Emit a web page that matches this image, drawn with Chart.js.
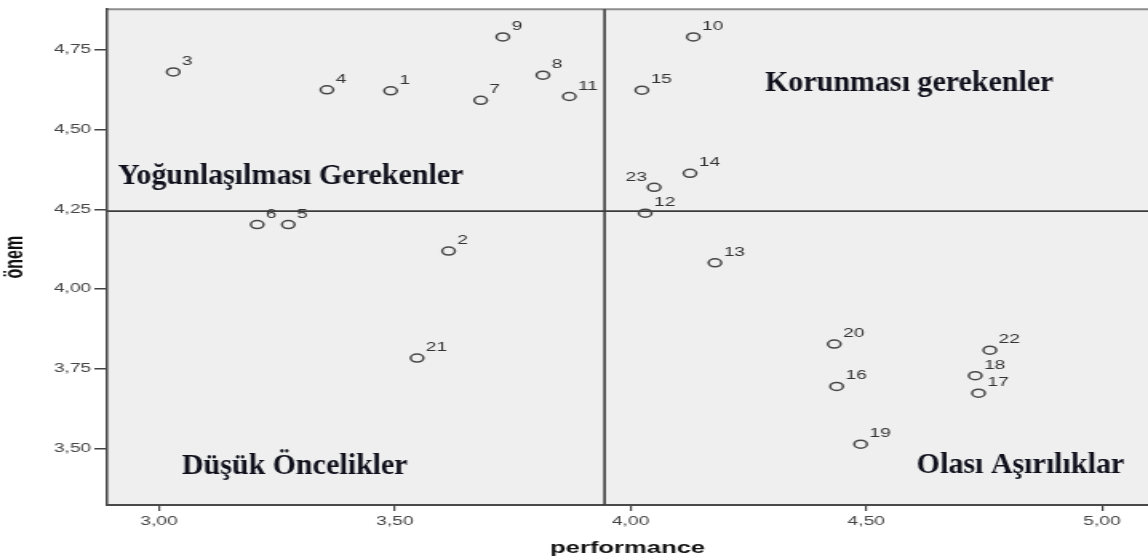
<!DOCTYPE html>
<html lang="tr">
<head>
<meta charset="utf-8">
<title>Önem - Performans Analizi</title>
<script src="https://cdn.jsdelivr.net/npm/chart.js@4/dist/chart.umd.min.js"></script>
<style>
  html, body { margin: 0; padding: 0; background: #fff; }
  #chart { display: block; }
</style>
</head>
<body>
<!-- the original picture is stretched sideways, so the canvas is too (inline style keeps Chart.js from resetting it) -->
<canvas id="chart" width="718" height="560" style="width:1148px;height:560px"></canvas>
<script>
// ---------- Data ----------

const ITEM_IDS = [1, 2, 3, 4, 5, 6, 7, 8, 9, 10, 11, 12, 13, 14, 15, 16, 17, 18, 19, 20, 21, 22, 23];
const PERFORMANCE = [3.491, 3.614, 3.030, 3.356, 3.274, 3.208, 3.682, 3.814, 3.729, 4.133, 3.870, 4.031,
                     4.179, 4.126, 4.024, 4.437, 4.738, 4.731, 4.488, 4.432, 3.547, 4.762, 4.050];
const ONEM = [4.622, 4.119, 4.681, 4.625, 4.202, 4.202, 4.592, 4.671, 4.791, 4.791, 4.604, 4.238,
              4.082, 4.363, 4.624, 3.694, 3.673, 3.728, 3.513, 3.827, 3.783, 3.808, 4.319];

// reference lines (means)
const MEAN_PERFORMANCE = 3.945;
const MEAN_ONEM = 4.244;

const X_TICKS = [3.0, 3.5, 4.0, 4.5, 5.0];
const Y_TICKS = [3.50, 3.75, 4.00, 4.25, 4.50, 4.75];

const QUADRANT_LABELS = ['Yoğunlaşılması Gerekenler', 'Korunması gerekenler', 'Düşük Öncelikler', 'Olası Aşırılıklar'];
const QUADRANT_X = [2.913, 4.285, 3.048, 4.607];
const QUADRANT_Y = [4.328, 4.621, 3.419, 3.421];

// labels that sit on the left of their marker
const LEFT_LABELS = new Set([23]);

// ---------- Helpers ----------

const fmtTick = (v) => Number(v).toFixed(2).replace('.', ',');

function stretchX(chart) {
  const c = chart.canvas;
  return (c.clientWidth || c.width) / c.width;
}

// ---------- Plugin: frame, mean lines, labels ----------

const quadrantPlugin = {
  id: 'quadrants',
  beforeDraw(chart) {
    const { ctx, chartArea: a } = chart;
    ctx.save();
    ctx.fillStyle = '#efefef';
    ctx.fillRect(a.left, a.top, a.right - a.left, a.bottom - a.top);
    ctx.strokeStyle = '#8c8c8c';
    ctx.lineWidth = 2;
    ctx.beginPath();
    ctx.moveTo(a.left, a.top);
    ctx.lineTo(a.right, a.top);
    ctx.stroke();
    ctx.restore();
  },
  beforeDatasetsDraw(chart) {
    const { ctx, chartArea: a, scales: { x, y } } = chart;
    const px = x.getPixelForValue(MEAN_PERFORMANCE);
    const py = y.getPixelForValue(MEAN_ONEM);
    ctx.save();
    ctx.strokeStyle = '#3c3c3c';
    ctx.lineWidth = 1.6;
    ctx.beginPath();
    ctx.moveTo(px, a.top);
    ctx.lineTo(px, a.bottom);
    ctx.stroke();
    ctx.lineWidth = 1.8;
    ctx.beginPath();
    ctx.moveTo(a.left, py);
    ctx.lineTo(a.right, py);
    ctx.stroke();
    ctx.restore();
  },
  afterDatasetsDraw(chart) {
    const { ctx, scales: { x, y } } = chart;
    ctx.save();

    // item numbers next to the markers
    ctx.font = '12px "Liberation Sans", Arial, sans-serif';
    ctx.fillStyle = '#333';
    ctx.textBaseline = 'alphabetic';
    ITEM_IDS.forEach((id, i) => {
      const px = x.getPixelForValue(PERFORMANCE[i]);
      const py = y.getPixelForValue(ONEM[i]);
      if (LEFT_LABELS.has(id)) {
        ctx.textAlign = 'right';
        ctx.fillText(String(id), px - 4.5, py - 6);
      } else {
        ctx.textAlign = 'left';
        ctx.fillText(String(id), px + 5.5, py - 7);
      }
    });

    // quadrant captions, drawn without the sideways stretch
    const sx = stretchX(chart);
    ctx.scale(1 / sx, 1);
    ctx.font = 'bold 30px "Liberation Serif", "Times New Roman", serif';
    ctx.fillStyle = '#10101c';
    ctx.textAlign = 'left';
    QUADRANT_LABELS.forEach((t, i) => {
      const px = x.getPixelForValue(QUADRANT_X[i]);
      const py = y.getPixelForValue(QUADRANT_Y[i]);
      ctx.fillText(t, px * sx, py);
    });
    ctx.restore();
  },
};

// ---------- Chart ----------

const ctx = document.getElementById('chart').getContext('2d');

new Chart(ctx, {
  type: 'scatter',
  data: {
    datasets: [{
      label: 'önem',
      data: ITEM_IDS.map((_, i) => ({ x: PERFORMANCE[i], y: ONEM[i] })),
      pointStyle: 'circle',
      pointRadius: 4,
      pointHoverRadius: 4,
      pointBorderWidth: 1.5,
      pointBorderColor: '#474747',
      pointBackgroundColor: 'rgba(0,0,0,0)',
    }],
  },
  options: {
    responsive: false,
    devicePixelRatio: 1,
    animation: false,
    layout: { autoPadding: false, padding: { top: 7, right: 0, bottom: 0, left: 0 } },
    plugins: {
      legend: { display: false },
      tooltip: { enabled: false },
    },
    scales: {
      x: {
        type: 'linear',
        min: 2.8897,
        max: 5.0976,
        afterBuildTicks: (s) => { s.ticks = X_TICKS.map(v => ({ value: v })); },
        afterFit: (s) => { s.height = 55; s.paddingLeft = 0; s.paddingRight = 0; },
        ticks: {
          callback: fmtTick,
          color: '#444',
          font: { family: '"Liberation Sans", Arial, sans-serif', size: 12 },
          padding: 3,
          maxRotation: 0,
          autoSkip: false,
        },
        grid: {
          drawOnChartArea: false,
          drawTicks: true,
          tickLength: 6,
          color: '#444',
          lineWidth: 1.2,
        },
        border: { display: true, color: '#4a4a4a', width: 2 },
        title: {
          display: true,
          text: 'performance',
          color: '#111',
          font: { family: '"Liberation Sans", Arial, sans-serif', size: 16, weight: 'bold' },
          padding: { top: 0, bottom: 2 },
        },
      },
      y: {
        type: 'linear',
        min: 3.322,
        max: 4.878,
        afterBuildTicks: (s) => { s.ticks = Y_TICKS.map(v => ({ value: v })); },
        afterFit: (s) => { s.width = 67; },
        ticks: {
          callback: fmtTick,
          color: '#444',
          font: { family: '"Liberation Sans", Arial, sans-serif', size: 12 },
          padding: 2,
          autoSkip: false,
        },
        grid: {
          drawOnChartArea: false,
          drawTicks: true,
          tickLength: 8,
          color: '#444',
          lineWidth: 1.5,
        },
        border: { display: true, color: '#4a4a4a', width: 1.6 },
        title: {
          display: true,
          text: 'önem',
          color: '#111',
          font: { family: '"Liberation Sans", Arial, sans-serif', size: 16, weight: 'bold' },
          padding: { top: 0, bottom: 0 },
        },
      },
    },
  },
  plugins: [quadrantPlugin],
});
</script>
</body>
</html>
